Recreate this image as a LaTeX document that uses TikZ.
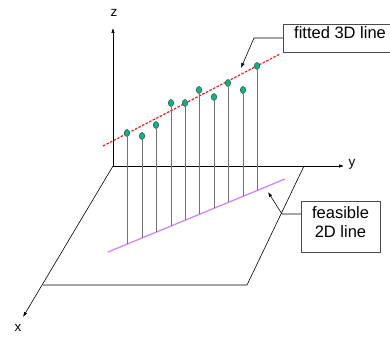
\documentclass[tikz,border=0pt]{standalone}
\usepackage{fontspec}
\setmainfont{Liberation Sans}
\usetikzlibrary{arrows.meta}
\definecolor{dotgreen}{RGB}{0,185,130}
\definecolor{lilac}{RGB}{205,135,255}
\tikzset{
  axis/.style={line width=0.6pt,-{Latex[length=5pt,width=3.5pt]}},
  edge/.style={line width=0.6pt},
  stem/.style={black!55,line width=0.8pt},
  dot/.style={ellipse,draw=black!70,fill=dotgreen,line width=0.5pt,minimum width=5.5pt,minimum height=7pt,inner sep=0pt},
  lbl/.style={font=\fontsize{16.5}{19}\selectfont,inner sep=0pt},
  axlbl/.style={font=\fontsize{13.5}{15}\selectfont,inner sep=0pt},
  box/.style={draw=black!70,line width=0.6pt,inner sep=0pt},
  pointer/.style={line width=0.6pt,-{Latex[length=5pt,width=3.5pt]}}
}
\usetikzlibrary{shapes.geometric}
\begin{document}
\begin{tikzpicture}[x=1pt,y=-1pt]
\clip (0,0) rectangle (390,339);
\useasboundingbox (0,0) rectangle (390,339);
% axes and plane
\coordinate (O) at (113,166);
\coordinate (Ztip) at (113,28);
\coordinate (Ytip) at (344,166);
\coordinate (Xtip) at (23,317);
\coordinate (P1) at (304,166);
\coordinate (P2) at (247,285);
\coordinate (P3) at (43,285);
\draw[edge] (P1) -- (P2) -- (P3);
\draw[axis] (O) -- (Ztip);
\draw[axis] (O) -- (Ytip);
\draw[axis] (O) -- (Xtip);
\node[axlbl] (zl) at (114,13) {z};
\node[axlbl] (yl) at (352,164) {y};
\node[axlbl] (xl) at (18,328) {x};
% feasible 2D line
\coordinate (La) at (108,252);
\coordinate (Lb) at (285,179);
\draw[lilac,line width=1.3pt] (La) -- (Lb);
% fitted 3D line
\coordinate (Ra) at (103,146);
\coordinate (Rb) at (280,54);
\draw[red!90!white,line width=1.2pt,dash pattern=on 2.5pt off 1.5pt] (Ra) -- (Rb);
% stems and points
\foreach \i/\x/\yb/\yt in {1/127/244/133,2/142/238/136,3/156/232/125,4/171/226/103,5/185/220/103,6/199/214/90,7/214/208/97,8/228/202/83,9/243/196/90,10/257/190/66}{
  \coordinate (b\i) at (\x,\yb);
  \node[dot] (p\i) at (\x,\yt) {};
  \draw[stem] (b\i) -- (p\i.south);
}
% label boxes
\node[box,anchor=north west,minimum width=120pt,minimum height=28pt] (fitbox) at (283,24) {};
\node[lbl,anchor=west] (fittxt) at (294,33) {fitted 3D line};
\coordinate (fk) at (254,38);
\coordinate (ft) at (241,68);
\draw[pointer] (fitbox.west |- fk) -- (fk) -- (ft);
\node[box,anchor=north west,minimum width=79pt,minimum height=51pt] (feasbox) at (301,201) {};
\node[lbl,align=center] (feastxt) at (340.5,222.5) {feasible\\2D line};
\coordinate (gk) at (282,214);
\coordinate (gt) at (268,192);
\draw[pointer] (feasbox.west |- gk) -- (gk) -- (gt);
\end{tikzpicture}
\end{document}
